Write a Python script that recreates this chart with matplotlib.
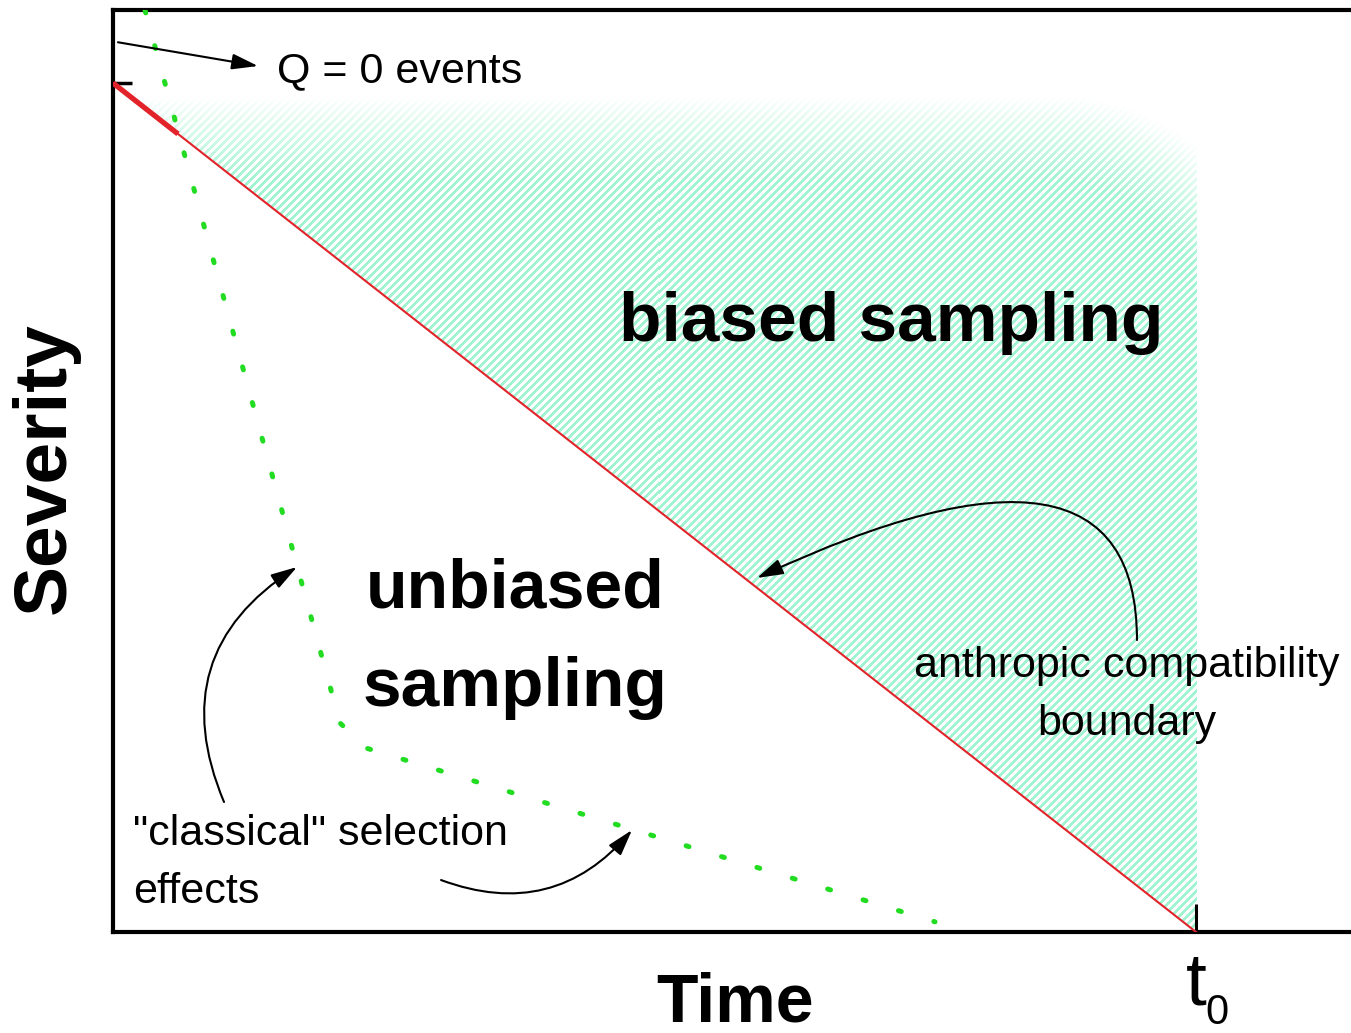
import numpy as np
import matplotlib
matplotlib.use("Agg")
import matplotlib.pyplot as plt
from matplotlib.transforms import offset_copy

plt.rcParams['font.family'] = ['Liberation Sans', 'DejaVu Sans']

# time in units of t0, severity in units of the Q=0 level
t0 = 1.0
boundary_t = [0.0, t0]
boundary_s = [1.0, 0.0]
boundary_thick_t = [0.0, 0.06]
classical_t = [0.0295, 0.2096, 0.2336, 0.759]
classical_s = [1.086, 0.2462, 0.2167, 0.012]

xmax, ymax = 1.1431, 1.086

fig = plt.figure(figsize=(13.51, 10.33), dpi=100)
ax = fig.add_axes([113/1351, 101/1033, 1238/1351, 922/1033])
ax.set_xlim(0, xmax)
ax.set_ylim(0, ymax)

# hatched region above the boundary, fading out at the top and top-right corner
nx, ny = 1083, 849
X, Y = np.meshgrid(np.arange(nx) + 0.5, np.arange(ny) + 0.5)
above = (Y / ny) > np.interp(X / nx, boundary_t, boundary_s)
stripe = ((X - Y) % 8.0) < 4.0
fade = np.clip((837 - Y) / 85.0, 0, 1)
cx, cy = 937, 600
corner = (X > cx) & (Y > cy)
d = np.hypot(X - cx, Y - cy)
fade = np.where(corner, np.clip((237 - d) / 85.0, 0, 1), fade)
rgba = np.zeros((ny, nx, 4))
rgba[..., 0] = 162/255
rgba[..., 1] = 243/255
rgba[..., 2] = 210/255
rgba[..., 3] = np.where(above & stripe, fade, 0)
ax.imshow(rgba, extent=[0, t0, 0, 1.0], origin='lower', aspect='auto',
          interpolation='nearest', zorder=1)

ax.plot(boundary_t, boundary_s, color='#e3232a', lw=1.5, zorder=3)
ax.plot(boundary_thick_t, np.interp(boundary_thick_t, boundary_t, boundary_s),
        color='#e3232a', lw=3.8, solid_capstyle='butt', zorder=3)
ax.plot(classical_t, classical_s, color='#22dc22', lw=3.6,
        linestyle=(0, (0.6, 6.8)), dash_capstyle='round', zorder=3)

for side in ['left', 'bottom', 'top']:
    ax.spines[side].set_linewidth(3)
ax.spines['right'].set_visible(False)

ax.set_xticks([t0])
ax.set_xticklabels([r'$\mathregular{t}$'], fontsize=54)
ax.set_yticks([1.0])
ax.set_yticklabels([''])
ax.tick_params(axis='x', direction='in', length=20, width=2.2, pad=13)
ax.tick_params(axis='y', direction='in', length=14, width=2.5)
ax.text(t0, 0, r'$\mathregular{0}$', fontsize=30, ha='left', va='baseline',
        transform=offset_copy(ax.transData, fig, x=9, y=-92, units='dots'),
        clip_on=False)

fig.text(735/1351, 1 - 1003/1033, 'Time', fontsize=49, fontweight='bold',
         ha='center', va='center')
fig.text(45/1351, 1 - 468/1033, 'Severity', fontsize=54, fontweight='bold',
         rotation=90, ha='center', va='center')

ax.text(0.7184, 0.6961, 'biased sampling', fontsize=50, fontweight='bold',
        ha='center', va='baseline', zorder=4)
ax.text(0.3712, 0.3828, 'unbiased', fontsize=49, fontweight='bold',
        ha='center', va='baseline', zorder=4)
ax.text(0.3712, 0.2662, 'sampling', fontsize=50, fontweight='bold',
        ha='center', va='baseline', zorder=4)

ax.text(0.1510, 1.001, 'Q = 0 events', fontsize=31, va='baseline', zorder=4)
ax.text(0.9363, 0.3004, 'anthropic compatibility', fontsize=31,
        ha='center', va='baseline', zorder=4)
ax.text(0.9363, 0.2321, 'boundary', fontsize=31,
        ha='center', va='baseline', zorder=4)
ax.text(0.0185, 0.1025, '"classical" selection', fontsize=31,
        va='baseline', zorder=4)
ax.text(0.0185, 0.0342, 'effects', fontsize=31, va='baseline', zorder=4)

arrow = dict(arrowstyle='-|>,head_length=1.0,head_width=0.3', color='black',
             lw=1.5, mutation_scale=16, shrinkA=0, shrinkB=0)
ax.annotate('', xy=(0.1339, 1.020), xytext=(0.0046, 1.048),
            arrowprops=arrow, zorder=5)
ax.annotate('', xy=(0.5946, 0.4170), xytext=(0.9455, 0.3439),
            arrowprops=dict(arrow, connectionstyle='angle3,angleA=90,angleB=25'),
            zorder=5)
ax.annotate('', xy=(0.1699, 0.4299), xytext=(0.1025, 0.1531),
            arrowprops=dict(arrow, connectionstyle='arc3,rad=-0.42'), zorder=5)
ax.annotate('', xy=(0.4792, 0.1201), xytext=(0.3029, 0.0612),
            arrowprops=dict(arrow, connectionstyle='arc3,rad=0.35'), zorder=5)

fig.savefig('out.png', dpi=100)
